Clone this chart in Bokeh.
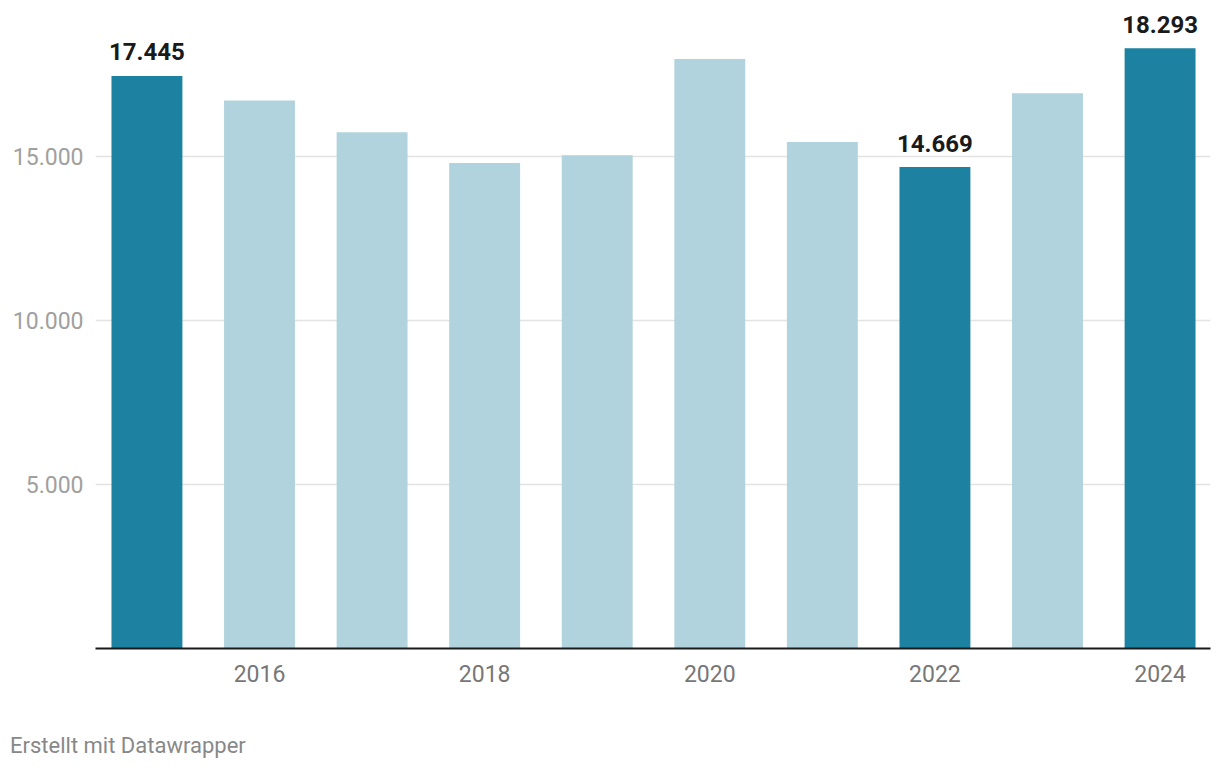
from bokeh.plotting import figure
from bokeh.layouts import column
from bokeh.models import ColumnDataSource, Range1d, FixedTicker, Div
from bokeh.core.properties import value
from bokeh.embed import file_html
from bokeh.resources import INLINE

years = [2015, 2016, 2017, 2018, 2019, 2020, 2021, 2022, 2023, 2024]
values = [17445, 16700, 15730, 14790, 15030, 17960, 15430, 14669, 16920, 18293]
highlight = [2015, 2022, 2024]
x_ticks = [2016, 2018, 2020, 2022, 2024]
y_ticks = [5000, 10000, 15000]
y_tick_labels = ["5.000", "10.000", "15.000"]
footer_text = "Erstellt mit Datawrapper"

DARK = "#1d81a2"
LIGHT = "#b1d3dd"

def de_fmt(v):
    return f"{v:,}".replace(",", ".")

colors = [DARK if y in highlight else LIGHT for y in years]
src = ColumnDataSource(dict(x=years, top=values, color=colors))

lab_x = [y for y in years if y in highlight]
lab_v = [v for y, v in zip(years, values) if y in highlight]
lab_src = ColumnDataSource(dict(x=lab_x, y=lab_v, t=[de_fmt(v) for v in lab_v]))

p = figure(width=1220, height=700, output_backend="svg", toolbar_location=None,
           x_range=Range1d(2014.543, 2024.448), y_range=Range1d(0, 19440),
           min_border_left=95, min_border_right=10, min_border_top=10,
           min_border_bottom=52)
p.outline_line_color = None
p.background_fill_color = "white"
p.border_fill_color = "white"

p.vbar(x="x", top="top", width=0.63, color="color", source=src, line_color=None)

p.text(x="x", y="y", text="t", source=lab_src, text_align="center",
       text_baseline="alphabetic", y_offset=-24, text_font=value("Roboto"),
       text_font_style="bold", text_font_size="24px", text_color="#1a1a1a")

# x axis
p.xaxis.ticker = FixedTicker(ticks=x_ticks)
p.xaxis.major_label_overrides = {t: str(t) for t in x_ticks}
p.xaxis.major_tick_line_color = None
p.xaxis.minor_tick_line_color = None
p.xaxis.axis_line_color = "#1a1a1a"
p.xaxis.axis_line_width = 2
p.xaxis.major_label_text_font = "Roboto"
p.xaxis.major_label_text_font_size = "23px"
p.xaxis.major_label_text_color = "#777777"
p.xaxis.major_label_standoff = 10

# y axis
p.yaxis.ticker = FixedTicker(ticks=y_ticks)
p.yaxis.major_label_overrides = dict(zip(y_ticks, y_tick_labels))
p.yaxis.major_tick_line_color = None
p.yaxis.minor_tick_line_color = None
p.yaxis.axis_line_color = None
p.yaxis.major_label_text_font = "Roboto"
p.yaxis.major_label_text_font_size = "23px"
p.yaxis.major_label_text_color = "#a0a0a0"
p.yaxis.major_label_standoff = 6

p.xgrid.grid_line_color = None
p.ygrid.grid_line_color = "#e3e3e3"
p.ygrid.grid_line_width = 1.5

# footer
footer = Div(
    text=('<div style="padding:34px 0 0 10px; font-family:Roboto; font-size:22px; '
          'line-height:24px; color:#888888;">' + footer_text + '</div>'),
    width=1220, height=70, margin=0)

layout = column(p, footer, spacing=0)
open("out.html", "w").write(file_html(layout, INLINE))
